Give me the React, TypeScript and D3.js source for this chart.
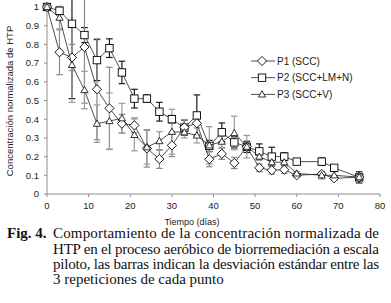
import React from "react";
import * as d3 from "d3";

const days = [0, 3, 6, 9, 12, 15, 18, 21, 24, 27, 30, 33, 36, 39, 42, 45, 48, 51, 54, 57, 60, 66, 69, 75];
const p1 = [1.0, 0.758, 0.73, 0.786, 0.56, 0.458, 0.376, 0.367, 0.244, 0.187, 0.26, 0.356, 0.378, 0.186, 0.215, 0.166, 0.253, 0.14, 0.127, 0.13, 0.1, 0.107, 0.084, 0.09];
const p2 = [1.0, 0.98, 0.91, 0.85, 0.716, 0.78, 0.65, 0.51, 0.51, 0.44, 0.4, 0.355, 0.42, 0.257, 0.33, 0.276, 0.252, 0.228, 0.2, 0.2, 0.173, 0.173, 0.14, 0.089];
const p3 = [1.0, 0.943, 0.69, 0.556, 0.376, 0.39, 0.405, 0.316, 0.25, 0.283, 0.333, 0.33, 0.313, 0.26, 0.28, 0.326, 0.253, 0.2, 0.17, 0.17, 0.11, 0.1, 0.1, 0.09];
const sd1 = [0, 0.12, 0.07, 0.3, 0.27, 0.22, 0.05, 0.04, 0.1, 0.05, 0.06, 0.04, 0.06, 0.04, 0.03, 0.03, 0.02, 0.02, 0.02, 0.02, 0.01, 0.01, 0.01, 0.01];
const sd2 = [0, 0.02, 0.4, 0.04, 0.11, 0.05, 0.06, 0.05, 0.02, 0.05, 0.02, 0.04, 0.11, 0.03, 0.05, 0.03, 0.03, 0.04, 0.05, 0.02, 0.01, 0.02, 0.01, 0.03];
const sd3 = [0, 0.06, 0.2, 0.1, 0.1, 0.15, 0.08, 0.085, 0.09, 0.05, 0.12, 0.03, 0.04, 0.1, 0.03, 0.09, 0.06, 0.02, 0.02, 0.02, 0.01, 0.02, 0.02, 0.01];
const seriesNames = ["P1 (SCC)", "P2 (SCC+LM+N)", "P3 (SCC+V)"];
const xTicks = [0, 10, 20, 30, 40, 50, 60, 70, 80];
const yTicks = [0, 0.1, 0.2, 0.3, 0.4, 0.5, 0.6, 0.7, 0.8, 0.9, 1];
const xTitle = "Tiempo (días)";
const yTitle = "Concentración normalizada de HTP";
const captionLabel = "Fig. 4.";
const captionLines = [
  "Comportamiento de la concentración normalizada de",
  "HTP en el proceso aeróbico de biorremediación a escala",
  "piloto, las barras indican la desviación estándar entre las",
  "3 repeticiones de cada punto",
];

const W = 391;
const H = 303;
const x = d3.scaleLinear().domain([0, 80]).range([47, 380]);
const y = d3.scaleLinear().domain([0, 1]).range([194, 7]);

type Shape = "diamond" | "square" | "triangle";

function marker(shape: Shape, cx: number, cy: number, key?: string | number) {
  if (shape === "diamond") {
    const r = 4.6;
    return <path key={key} d={`M${cx},${cy - r}L${cx + r},${cy}L${cx},${cy + r}L${cx - r},${cy}Z`} fill="#fff" stroke="#000" strokeWidth={0.9} />;
  }
  if (shape === "square") {
    const s = 7.4;
    return <rect key={key} x={cx - s / 2} y={cy - s / 2} width={s} height={s} fill="#fff" stroke="#000" strokeWidth={0.9} />;
  }
  const w = 3.6;
  return <path key={key} d={`M${cx},${cy - 3.6}L${cx + w},${cy + 2.6}L${cx - w},${cy + 2.6}Z`} fill="#fff" stroke="#000" strokeWidth={0.8} />;
}

const series = [
  { name: seriesNames[1], values: p2, sd: sd2, shape: "square" as Shape, err: "#1a1a1a" },
  { name: seriesNames[0], values: p1, sd: sd1, shape: "diamond" as Shape, err: "#8a8a8a" },
  { name: seriesNames[2], values: p3, sd: sd3, shape: "triangle" as Shape, err: "#9a9a9a" },
];

export default function App() {
  const line = d3
    .line<number>()
    .x((_, i) => x(days[i]))
    .y((v) => y(v));
  const sans = "'Liberation Sans', Arial, sans-serif";
  const serif = "'Liberation Serif', 'Times New Roman', serif";
  const legendOrder = [
    { name: seriesNames[0], shape: "diamond" as Shape },
    { name: seriesNames[1], shape: "square" as Shape },
    { name: seriesNames[2], shape: "triangle" as Shape },
  ];
  return (
    <svg width={W} height={H} style={{ position: "absolute", left: 0, top: 0, background: "#fff" }}>
      <defs>
        <clipPath id="plot">
          <rect x={0} y={0} width={W} height={194} />
        </clipPath>
      </defs>
      <line x1={x(0)} x2={x(0)} y1={y(1)} y2={y(0)} stroke="#8c8c8c" strokeWidth={1} />
      <line x1={x(0)} x2={x(80)} y1={y(0)} y2={y(0)} stroke="#8c8c8c" strokeWidth={1} />
      {yTicks.map((t) => (
        <g key={"y" + t}>
          <line x1={x(0) - 3} x2={x(0)} y1={y(t)} y2={y(t)} stroke="#8c8c8c" />
          <text x={39} y={y(t) + 3.3} textAnchor="end" fontFamily={sans} fontSize={9.5} fill="#222">
            {t === 1 ? "1" : t === 0 ? "0" : t.toFixed(1)}
          </text>
        </g>
      ))}
      {xTicks.map((t) => (
        <g key={"x" + t}>
          <line x1={x(t)} x2={x(t)} y1={y(0)} y2={y(0) + 3} stroke="#8c8c8c" />
          <text x={x(t)} y={208.5} textAnchor="middle" fontFamily={sans} fontSize={9.5} fill="#222">
            {t}
          </text>
        </g>
      ))}
      <text x={192} y={224.5} textAnchor="middle" fontFamily={sans} fontSize={9} fill="#222">
        {xTitle}
      </text>
      <text transform={`translate(12.5,101) rotate(-90)`} textAnchor="middle" fontFamily={sans} fontSize={9.5} fill="#222">
        {yTitle}
      </text>
      <g clipPath="url(#plot)">
        {series.map((s) =>
          s.values.map((v, i) =>
            s.sd[i] > 0 ? (
              <g key={s.name + "e" + i} stroke={s.err} strokeWidth={1.2}>
                <line x1={x(days[i])} x2={x(days[i])} y1={y(v + s.sd[i])} y2={y(v - s.sd[i])} />
                <line x1={x(days[i]) - 3.3} x2={x(days[i]) + 3.3} y1={y(v + s.sd[i])} y2={y(v + s.sd[i])} />
                <line x1={x(days[i]) - 3.3} x2={x(days[i]) + 3.3} y1={y(v - s.sd[i])} y2={y(v - s.sd[i])} />
              </g>
            ) : null
          )
        )}
      </g>
      {series.map((s) => (
        <g key={s.name}>
          <path d={line(s.values) || ""} fill="none" stroke="#222" strokeWidth={0.8} />
          {s.values.map((v, i) => marker(s.shape, x(days[i]), y(v), i))}
        </g>
      ))}
      {legendOrder.map((l, i) => {
        const ly = 61 + i * 16.7;
        return (
          <g key={"lg" + i}>
            <line x1={251} x2={275} y1={ly} y2={ly} stroke="#222" strokeWidth={0.8} />
            {marker(l.shape, 262, ly)}
            <text x={277} y={ly + 3.5} fontFamily={sans} fontSize={10} fill="#222">
              {l.name}
            </text>
          </g>
        );
      })}
      <text x={7} y={238.3} fontFamily={serif} fontSize={15} fontWeight="bold" fill="#111">
        {captionLabel}
      </text>
      {captionLines.map((t, i) => (
        <text
          key={"c" + i}
          x={53}
          y={238.3 + i * 15.35}
          fontFamily={serif}
          fontSize={15}
          fill="#111"
          {...(i < 3 ? { textLength: 326, lengthAdjust: "spacing" } : {})}
        >
          {t}
        </text>
      ))}
    </svg>
  );
}
